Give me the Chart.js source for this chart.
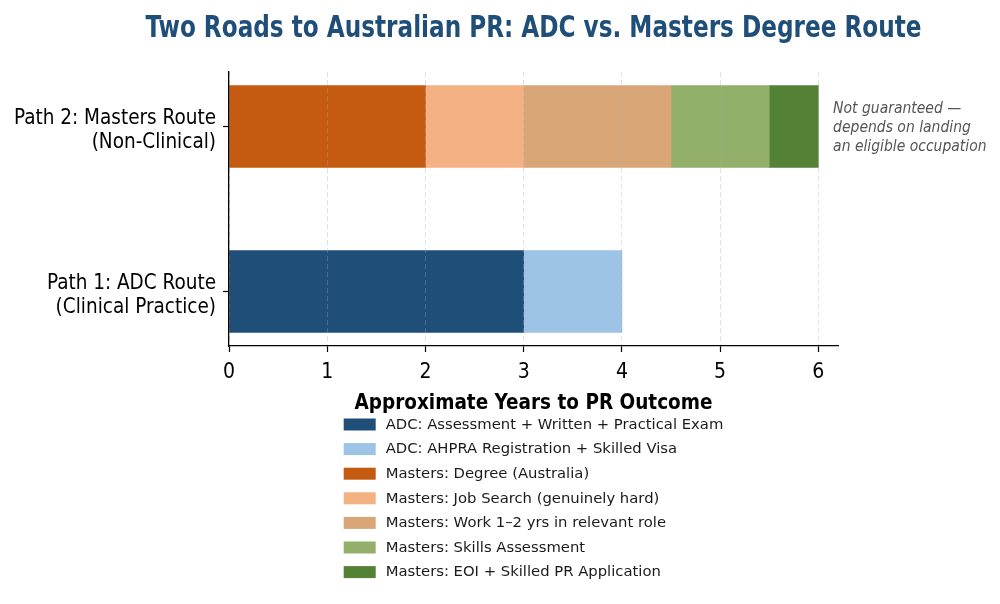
<!DOCTYPE html>
<html><head><meta charset="utf-8">
<script src="https://cdn.jsdelivr.net/npm/chart.js@4.4.1/dist/chart.umd.min.js"></script>
<style>html,body{margin:0;padding:0;background:#fff}#wrap{width:1000px;height:604px;position:relative}</style>
</head><body><div id="wrap"><canvas id="c"></canvas></div>
<script>
const chartTitle = 'Two Roads to Australian PR: ADC vs. Masters Degree Route';
const axisTitle = 'Approximate Years to PR Outcome';
const categories = [['Path 1: ADC Route', '(Clinical Practice)'], ['Path 2: Masters Route', '(Non-Clinical)']];
const xTicks = [0, 1, 2, 3, 4, 5, 6];
const seriesLabels = [
  'ADC: Assessment + Written + Practical Exam',
  'ADC: AHPRA Registration + Skilled Visa',
  'Masters: Degree (Australia)',
  'Masters: Job Search (genuinely hard)',
  'Masters: Work 1\u20132 yrs in relevant role',
  'Masters: Skills Assessment',
  'Masters: EOI + Skilled PR Application'
];
const seriesColors = ['#1f4e79', '#9dc3e6', '#c55a11', '#f4b183', '#d9a677', '#92b06a', '#538135'];
const adcExam = [3, null];
const adcVisa = [1, null];
const mDegree = [null, 2];
const mJob = [null, 1];
const mWork = [null, 1.5];
const mSkills = [null, 1];
const mEoi = [null, 0.5];
const seriesValues = [adcExam, adcVisa, mDegree, mJob, mWork, mSkills, mEoi];
const noteLines = ['Not guaranteed \u2014', 'depends on landing', 'an eligible occupation'];
const noteAt = { x: 6.15, y: 1 };

const COND = '"DejaVu Sans Condensed", "DejaVu Sans", sans-serif';

const datasets = seriesLabels.map((lab, k) => ({
  label: lab,
  backgroundColor: seriesColors[k],
  borderWidth: 0,
  barThickness: 82,
  data: seriesValues[k].map((v, i) => v == null ? null : { x: v, y: i }).filter(Boolean)
}));

// centre the title over the plot area and fit it to the reference's narrow width
const titleCenterPlugin = {
  id: 'titleCenter',
  afterLayout(chart) {
    const t = chart.titleBlock, ca = chart.chartArea;
    if (!t) return;
    const w = 776;
    const c = (ca.left + ca.right) / 2;
    t.left = c - w / 2;
    t.right = c + w / 2;
    t.width = w;
  }
};

const notePlugin = {
  id: 'note',
  afterDraw(chart) {
    const ctx = chart.ctx;
    const x = chart.scales.x.getPixelForValue(noteAt.x);
    const y = chart.scales.y.getPixelForValue(noteAt.y);
    ctx.save();
    ctx.font = 'italic 15.5px ' + COND;
    ctx.fillStyle = '#555555';
    ctx.textAlign = 'left';
    ctx.textBaseline = 'middle';
    noteLines.forEach((t, i) => ctx.fillText(t, x, y + 1 + (i - (noteLines.length - 1) / 2) * 19));
    ctx.restore();
  }
};

const legendPlugin = {
  id: 'listLegend',
  afterDraw(chart) {
    const ctx = chart.ctx;
    const ca = chart.chartArea;
    ctx.save();
    ctx.font = '14.8px "DejaVu Sans", sans-serif';
    const maxW = Math.max(...chart.data.datasets.map(d => ctx.measureText(d.label).width));
    const boxW = 32, boxH = 12, gap = 10;
    const left = (ca.left + ca.right) / 2 - (boxW + gap + maxW) / 2;
    const top = ca.bottom + 78.5;
    const step = 24.6;
    ctx.textAlign = 'left';
    ctx.textBaseline = 'middle';
    chart.data.datasets.forEach((d, i) => {
      const cy = top + i * step;
      ctx.fillStyle = d.backgroundColor;
      ctx.fillRect(left, cy - boxH / 2, boxW, boxH);
      ctx.fillStyle = '#1a1a1a';
      ctx.fillText(d.label, left + boxW + gap, cy + 0.5);
    });
    ctx.restore();
  }
};

new Chart(document.getElementById('c'), {
  type: 'bar',
  data: { datasets },
  options: {
    indexAxis: 'y',
    responsive: true,
    maintainAspectRatio: false,
    animation: false,
    layout: { padding: { left: 0, right: 162, top: 0, bottom: 188 } },
    scales: {
      x: {
        type: 'linear', stacked: true, min: 0, max: 6.2,
        afterBuildTicks: s => { s.ticks = xTicks.map(v => ({ value: v })); },
        afterFit: s => { s.height = 70; },
        ticks: { font: { family: COND, size: 21 }, color: '#000', padding: 8 },
        title: { display: true, text: axisTitle, color: '#000', font: { family: COND, size: 20.5, weight: 'bold' }, padding: { top: 0, bottom: 0 } },
        grid: { color: 'rgba(170,170,170,0.35)', lineWidth: 1, z: 1, tickLength: 6, tickColor: '#000', tickWidth: 1.2, tickBorderDash: [] },
        border: { display: true, color: '#000', width: 1.3, dash: [5, 3], z: 2 }
      },
      y: {
        type: 'linear', stacked: true, min: -0.33, max: 1.33, offset: false,
        afterBuildTicks: s => { s.ticks = categories.map((_, i) => ({ value: i })); },
        afterFit: s => { s.width = 229; },
        ticks: { callback: v => categories[v], font: { family: COND, size: 20.5, lineHeight: 1.17 }, color: '#000', padding: 7, labelOffset: 4 },
        grid: { offset: false, drawOnChartArea: false, tickLength: 6, tickColor: '#000', tickWidth: 1.2 },
        border: { display: true, color: '#000', width: 1.3, z: 2 }
      }
    },
    plugins: {
      legend: { display: false },
      tooltip: { enabled: false },
      title: {
        display: true, text: chartTitle, fullSize: true, align: 'center', color: '#1f4e79',
        font: { family: COND, size: 29.5, weight: 'bold', lineHeight: 1.2 }, padding: { top: 11.3, bottom: 25.3 }
      }
    }
  },
  plugins: [titleCenterPlugin, notePlugin, legendPlugin]
});
</script></body></html>
